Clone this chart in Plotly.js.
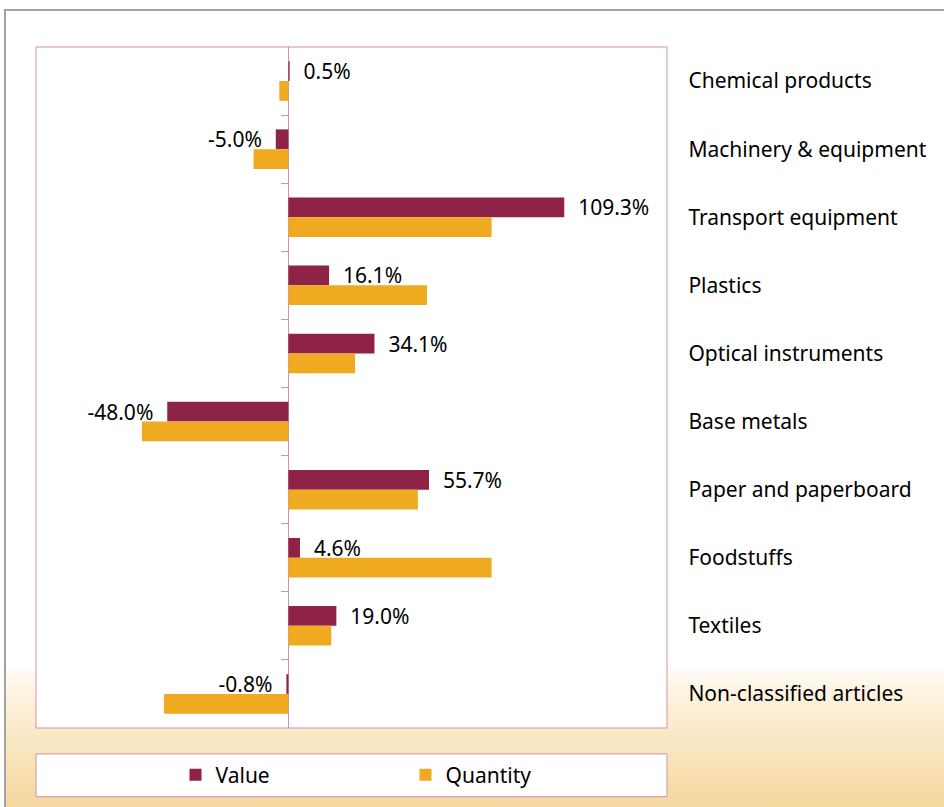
<!DOCTYPE html>
<html>
<head>
<meta charset="utf-8">
<script src="https://cdn.plot.ly/plotly-3.0.1.min.js"></script>
<style>
  html, body { margin: 0; padding: 0; background: #ffffff; overflow: hidden; }
  #wrap { position: relative; width: 944px; height: 807px; background: #ffffff; }
  #frame {
    position: absolute; left: 4px; top: 9px; width: 960px; height: 820px;
    border-left: 2px solid #a3a3a3; border-top: 2px solid #a3a3a3;
    background: linear-gradient(to bottom, #ffffff 0px, #ffffff 652px, #fdf3e2 680px, #f8e0b2 760px, #f5d69d 800px);
  }
  #chart { position: absolute; left: 0; top: 0; width: 944px; height: 807px; }
</style>
</head>
<body>
<div id="wrap">
  <div id="frame"></div>
  <div id="chart"></div>
</div>
<script>
// ---- data ----
const categories = [
  "Chemical products",
  "Machinery & equipment",
  "Transport equipment",
  "Plastics",
  "Optical instruments",
  "Base metals",
  "Paper and paperboard",
  "Foodstuffs",
  "Textiles",
  "Non-classified articles"
];
const valueChange    = [0.5, -5.0, 109.3, 16.1, 34.1, -48.0, 55.7, 4.6, 19.0, -0.8];
const quantityChange = [-3.6, -13.8, 80.5, 54.9, 26.4, -58.0, 51.3, 80.5, 17.0, -49.3];
const seriesNames = ["Value", "Quantity"];

// ---- styling ----
const MAROON = "#8e2247";
const ORANGE = "#f0aa22";
const PINK = "#d391ab";
const FONT = "Noto Sans, Open Sans, sans-serif";
const NB = "\u00a0\u00a0";

const valueLabels = valueChange.map(v => v >= 0 ? NB + v.toFixed(1) + "%" : v.toFixed(1) + "%" + NB);

const traces = [
  {
    type: "bar", orientation: "h", name: seriesNames[0],
    y: categories, x: valueChange,
    marker: { color: MAROON, line: { width: 0 } },
    text: valueLabels, textposition: "outside", constraintext: "none",
    cliponaxis: false,
    textfont: { family: FONT, size: 21, color: "#000000" },
    hoverinfo: "skip"
  },
  {
    type: "bar", orientation: "h", name: seriesNames[1],
    y: categories, x: quantityChange,
    marker: { color: ORANGE, line: { width: 0 } },
    hoverinfo: "skip"
  }
];

const layout = {
  width: 944, height: 807,
  margin: { l: 36, r: 277, t: 47, b: 76, pad: 0 },
  paper_bgcolor: "rgba(0,0,0,0)",
  plot_bgcolor: "#ffffff",
  barmode: "group",
  bargap: 0.42,
  bargroupgap: 0,
  showlegend: true,
  font: { family: FONT, size: 21, color: "#000000" },
  xaxis: {
    range: [-100, 150], fixedrange: true,
    showgrid: false, showticklabels: false, ticks: "",
    zeroline: true, zerolinecolor: PINK, zerolinewidth: 1,
    showline: false
  },
  yaxis: {
    type: "category", autorange: "reversed", fixedrange: true,
    anchor: "free", position: 0.4, side: "right",
    showgrid: false, zeroline: false, showline: false,
    ticks: "inside", tickson: "boundaries", ticklen: 7, tickcolor: PINK, tickwidth: 1,
    ticklabelstandoff: 399,
    tickfont: { family: FONT, size: 21, color: "#000000" },
    automargin: false
  },
  legend: {
    orientation: "h", x: 0.5856, xanchor: "center", y: -0.069, yanchor: "middle",
    bgcolor: "rgba(0,0,0,0)", borderwidth: 0,
    font: { family: FONT, size: 21, color: "#000000" },
    entrywidth: 185, entrywidthmode: "pixels", traceorder: "normal",
    itemclick: false, itemdoubleclick: false
  },
  shapes: [
    { type: "rect", xref: "paper", yref: "paper", x0: 0, x1: 1, y0: 0, y1: 1,
      line: { color: PINK, width: 1 }, fillcolor: "rgba(0,0,0,0)", layer: "above" },
    { type: "rect", xref: "paper", yref: "paper", x0: 0, x1: 1, y0: -0.038, y1: -0.1009,
      line: { color: PINK, width: 1 }, fillcolor: "#ffffff", layer: "below" }
  ]
};

Plotly.newPlot("chart", traces, layout, { displayModeBar: false, staticPlot: true });
</script>
</body>
</html>
